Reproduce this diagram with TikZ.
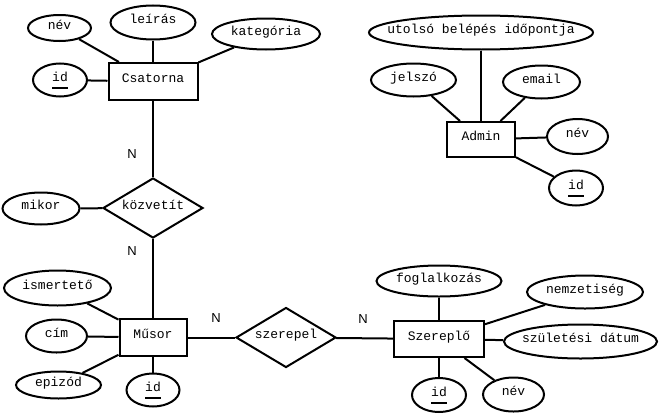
\documentclass[tikz,border=0pt]{standalone}
\usepackage{fontspec}
\newfontfamily\ermono{Liberation Mono}
\newfontfamily\ersans{Liberation Sans}
\usetikzlibrary{shapes.geometric}
\newcommand{\zw}[1]{\makebox[0pt]{#1}}
\newcommand{\pk}[1]{\sbox0{#1}\rlap{\raisebox{-8pt}{\rule{\wd0}{1.8pt}}}#1}
\tikzset{
  er/.style={draw, line width=2pt, inner sep=0pt, font=\ermono\fontsize{13}{15}\selectfont, text height=8pt, text depth=6pt},
  entity/.style={er, rectangle},
  attrib/.style={er, ellipse},
  rel/.style={er, diamond},
  card/.style={font=\ersans\fontsize{13}{15}\selectfont, inner sep=0pt},
  conn/.style={line width=2pt}
}
\begin{document}
\begin{tikzpicture}[x=1pt,y=-1pt]
  \useasboundingbox (0,0) rectangle (660,415);
  % Entities
  \foreach \n/\x/\y/\w/\h/\t in {csatorna/153/81.5/89/37/Csatorna, musor/153/337.5/67/37/Műsor,
      szereplo/439/339/90/36/Szereplő, admin/481/139.5/68/35/Admin} {
    \node[entity, minimum width=\w pt, minimum height=\h pt] (\n) at (\x,\y) {\t};
  }
  % Relationships
  \foreach \n/\x/\y/\t in {kozvetit/153/208/közvetít, szerepel/286/337.5/szerepel} {
    \node[rel, minimum width=100pt, minimum height=60pt] (\n) at (\x,\y) {\zw{\t}};
  }
  % Attributes
  \foreach \n/\x/\y/\w/\h/\t in {cs-nev/59.5/28/63/26/név, cs-leiras/153/22.5/85/34/leírás,
      cs-kat/266/34/108/31/kategória, cs-id/60/80/54/33/\pk{id},
      kv-mikor/41/208.5/77/32/mikor,
      mu-ism/57.5/288/107/35/ismertető, mu-cim/56.5/336/61/33/cím,
      mu-epi/58.5/385/85/27/epizód, mu-id/153/390/53/33/\pk{id},
      sz-fog/439/281/125/31/foglalkozás, sz-nemz/585/292/116/33/nemzetiség,
      sz-szul/580.5/341.5/153/34/születési dátum, sz-id/439/395/54/34/\pk{id},
      sz-nev/513.5/394.5/61/34/név,
      ad-utolso/481/32.5/224/34/utolsó belépés időpontja, ad-jelszo/413.5/80/85/33/jelszó,
      ad-email/541.5/82/77/33/email, ad-nev/577.5/136.5/61/35/név, ad-id/576/188/54/35/\pk{id}} {
    \node[attrib, minimum width=\w pt, minimum height=\h pt] (\n) at (\x,\y) {\zw{\t}};
  }
  % Connectors
  \foreach \a/\b in {cs-nev/csatorna, cs-leiras/csatorna, cs-kat/csatorna, cs-id/csatorna,
      csatorna/kozvetit, kv-mikor/kozvetit, kozvetit/musor,
      mu-ism/musor, mu-cim/musor, mu-epi/musor, mu-id/musor,
      musor/szerepel, szerepel/szereplo,
      sz-fog/szereplo, sz-nemz/szereplo, sz-szul/szereplo, sz-id/szereplo, sz-nev/szereplo,
      ad-utolso/admin, ad-jelszo/admin, ad-email/admin, ad-nev/admin, ad-id/admin} {
    \draw[conn] (\a) -- (\b);
  }
  % Cardinalities
  \node[card] (n1) at (132,154.5) {N};
  \node[card] (n2) at (132,251) {N};
  \node[card] (n3) at (216,318.5) {N};
  \node[card] (n4) at (363,319) {N};
\end{tikzpicture}
\end{document}
